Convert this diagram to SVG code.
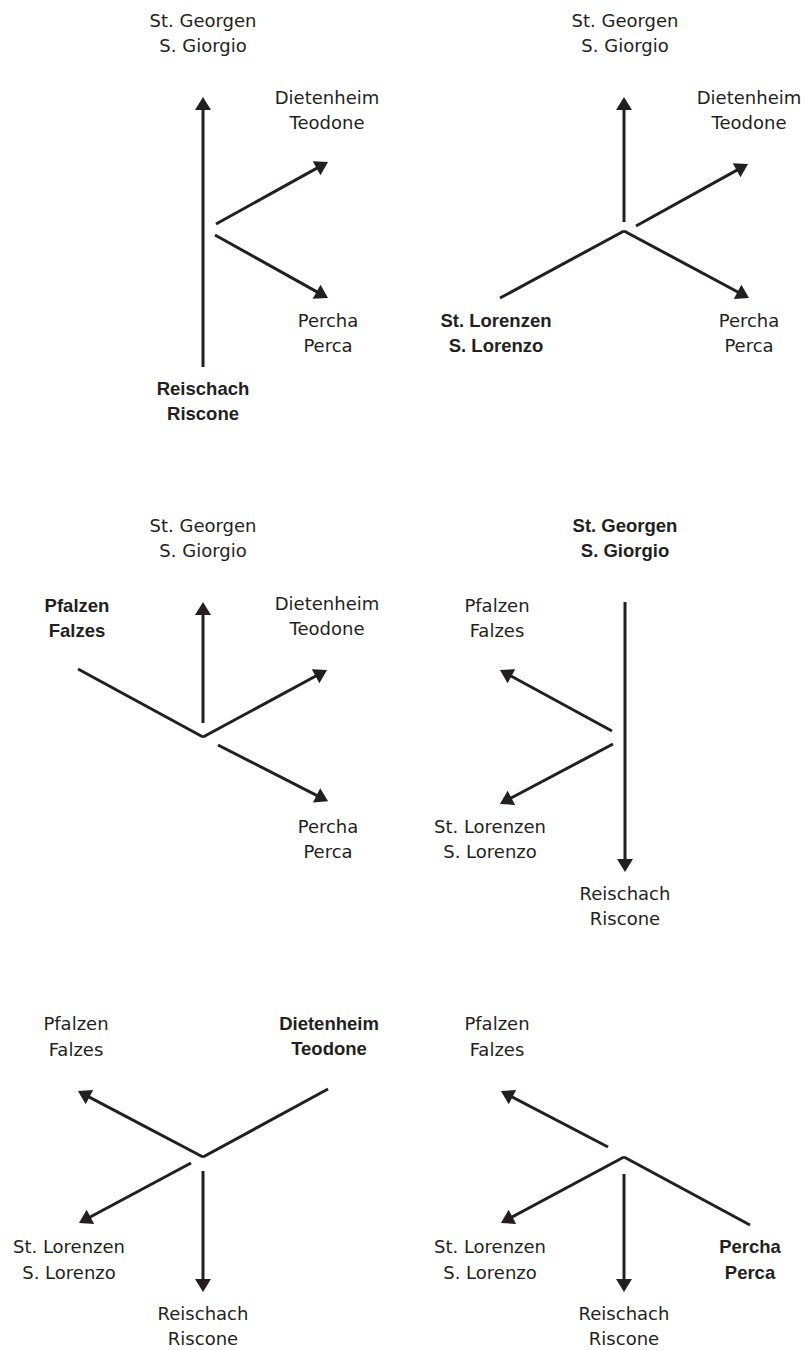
<svg xmlns="http://www.w3.org/2000/svg" width="806" height="1350" viewBox="0 0 806 1350">
<defs>
<style>
.t{font-family:"DejaVu Sans",sans-serif;font-size:18px;fill:#231f20;text-anchor:middle}
.b{font-family:"Liberation Sans",Arial,sans-serif;font-size:18.5px;font-weight:bold;fill:#231f20;text-anchor:middle}
.c line{stroke:#231f20;stroke-width:3;fill:none}
.c line.a{marker-end:url(#ah)}
</style>
<marker id="ah" markerUnits="userSpaceOnUse" viewBox="-6 -9 15 18" markerWidth="15" markerHeight="18" refX="0" refY="0" orient="auto">
<path d="M-5,-8 L8,0 L-5,8 Z" fill="#231f20"/>
</marker>
</defs>
<rect width="806" height="1350" fill="#ffffff"/>

<!-- Panel 1 -->
<g id="p1-stgeorgen"><text class="t" x="203" y="27">St. Georgen</text><text class="t" x="203" y="52">S. Giorgio</text></g>
<g id="p1-dietenheim"><text class="t" x="327" y="104">Dietenheim</text><text class="t" x="327" y="129">Teodone</text></g>
<g id="p1-percha"><text class="t" x="328" y="327">Percha</text><text class="t" x="328" y="352">Perca</text></g>
<g id="p1-reischach"><text class="b" x="203" y="395">Reischach</text><text class="b" x="203" y="420">Riscone</text></g>

<!-- Panel 2 -->
<g id="p2-stgeorgen"><text class="t" x="625" y="27">St. Georgen</text><text class="t" x="625" y="52">S. Giorgio</text></g>
<g id="p2-dietenheim"><text class="t" x="749" y="104">Dietenheim</text><text class="t" x="749" y="129">Teodone</text></g>
<g id="p2-percha"><text class="t" x="749" y="327">Percha</text><text class="t" x="749" y="352">Perca</text></g>
<g id="p2-stlorenzen"><text class="b" x="496" y="327">St. Lorenzen</text><text class="b" x="496" y="352">S. Lorenzo</text></g>

<!-- Panel 3 -->
<g id="p3-stgeorgen"><text class="t" x="203" y="532">St. Georgen</text><text class="t" x="203" y="557">S. Giorgio</text></g>
<g id="p3-pfalzen"><text class="b" x="77" y="612">Pfalzen</text><text class="b" x="77" y="637">Falzes</text></g>
<g id="p3-dietenheim"><text class="t" x="327" y="610">Dietenheim</text><text class="t" x="327" y="635">Teodone</text></g>
<g id="p3-percha"><text class="t" x="328" y="833">Percha</text><text class="t" x="328" y="858">Perca</text></g>

<!-- Panel 4 -->
<g id="p4-stgeorgen"><text class="b" x="625" y="532">St. Georgen</text><text class="b" x="625" y="557">S. Giorgio</text></g>
<g id="p4-pfalzen"><text class="t" x="497" y="612">Pfalzen</text><text class="t" x="497" y="637">Falzes</text></g>
<g id="p4-stlorenzen"><text class="t" x="490" y="833">St. Lorenzen</text><text class="t" x="490" y="858">S. Lorenzo</text></g>
<g id="p4-reischach"><text class="t" x="625" y="900">Reischach</text><text class="t" x="625" y="925">Riscone</text></g>

<!-- Panel 5 -->
<g id="p5-pfalzen"><text class="t" x="76" y="1030">Pfalzen</text><text class="t" x="76" y="1056">Falzes</text></g>
<g id="p5-dietenheim"><text class="b" x="329" y="1030">Dietenheim</text><text class="b" x="329" y="1055">Teodone</text></g>
<g id="p5-stlorenzen"><text class="t" x="69" y="1253">St. Lorenzen</text><text class="t" x="69" y="1279">S. Lorenzo</text></g>
<g id="p5-reischach"><text class="t" x="203" y="1320">Reischach</text><text class="t" x="203" y="1345">Riscone</text></g>

<!-- Panel 6 -->
<g id="p6-pfalzen"><text class="t" x="497" y="1030">Pfalzen</text><text class="t" x="497" y="1056">Falzes</text></g>
<g id="p6-stlorenzen"><text class="t" x="490" y="1253">St. Lorenzen</text><text class="t" x="490" y="1279">S. Lorenzo</text></g>
<g id="p6-reischach"><text class="t" x="624" y="1320">Reischach</text><text class="t" x="624" y="1345">Riscone</text></g>
<g id="p6-percha"><text class="b" x="750" y="1253">Percha</text><text class="b" x="750" y="1279">Perca</text></g>

<g id="connectors" class="c">
<!-- Panel 1 -->
<line class="a" x1="203" y1="367" x2="203" y2="105"/>
<line class="a" x1="216" y1="224" x2="321" y2="165.9"/>
<line class="a" x1="215" y1="235" x2="321" y2="294.1"/>
<!-- Panel 2 -->
<line class="a" x1="624" y1="222" x2="624" y2="105"/>
<line class="a" x1="636" y1="226" x2="741" y2="167.9"/>
<line class="a" x1="624" y1="231" x2="742" y2="294.2"/>
<line x1="500" y1="298" x2="624" y2="231"/>
<!-- Panel 3 -->
<line class="a" x1="203" y1="723" x2="203" y2="610"/>
<line class="a" x1="203" y1="737" x2="320" y2="673.8"/>
<line class="a" x1="218" y1="745" x2="321" y2="797.6"/>
<line x1="78" y1="669" x2="203" y2="737"/>
<!-- Panel 4 -->
<line class="a" x1="625" y1="602" x2="625" y2="864"/>
<line class="a" x1="612" y1="731" x2="507" y2="673.8"/>
<line class="a" x1="613" y1="744" x2="507" y2="800.2"/>
<!-- Panel 5 -->
<line x1="328" y1="1089" x2="203" y2="1157"/>
<line class="a" x1="203" y1="1157" x2="85" y2="1094.8"/>
<line class="a" x1="191" y1="1163" x2="86" y2="1219.2"/>
<line class="a" x1="203" y1="1171" x2="203" y2="1284"/>
<!-- Panel 6 -->
<line x1="750" y1="1225" x2="624" y2="1157"/>
<line class="a" x1="624" y1="1157" x2="508" y2="1219.2"/>
<line class="a" x1="608" y1="1147" x2="508" y2="1094.8"/>
<line class="a" x1="624" y1="1174" x2="624" y2="1284"/>
</g>
</svg>
